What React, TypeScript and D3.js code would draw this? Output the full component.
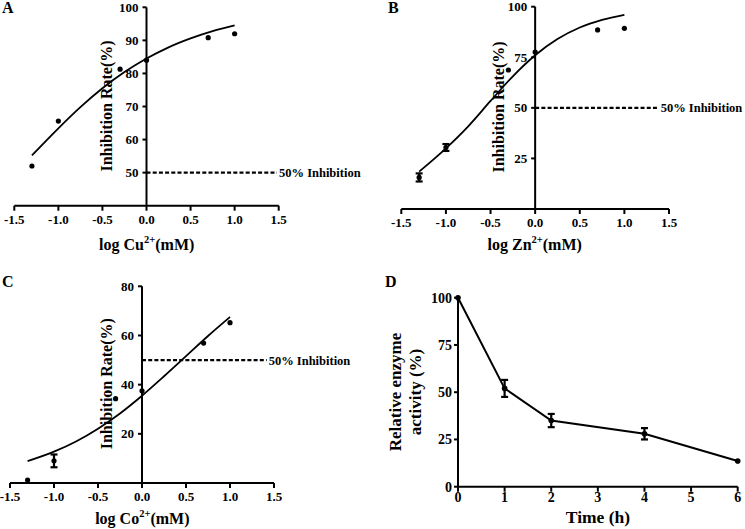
import React from "react";
import * as d3 from "d3";

const FONT = "'Liberation Serif', 'Times New Roman', serif";

// ---- data ----
const doseLog = [-1.3, -1.0, -0.3, 0, 0.7, 1.0];
const cuRate = [52, 65.6, 81.3, 84, 90.8, 92];
const cuErr = [0, 0, 0, 0, 0, 0];
const znRate = [15.6, 30.4, 68.7, 77.6, 88.5, 89.3];
const znErr = [2, 1.7, 0, 0, 0, 0];
const coRate = [1.2, 9, 34.3, 37.5, 56.9, 65.2];
const coErr = [0, 2.6, 0, 0, 0, 0];

const fitLog = [-1.3, -1.0, -0.75, -0.5, -0.25, 0, 0.25, 0.5, 0.75, 1.0];
const cuFit = [55.2, 63.4, 69.8, 75.5, 80.4, 84.5, 87.9, 90.6, 92.8, 94.5];
const znFit = [18.5, 30, 40.9, 53.4, 65.6, 76, 84, 89.7, 93.5, 96];
const coFit = [8.9, 12.75, 16.9, 22.1, 28.3, 35.5, 43.4, 51.6, 59.8, 67.5];

const doseTicks = [-1.5, -1.0, -0.5, 0, 0.5, 1.0, 1.5];
const cuYTicks = [50, 60, 70, 80, 90, 100];
const znYTicks = [25, 50, 75, 100];
const coYTicks = [20, 40, 60, 80];

const timeH = [0, 1, 2, 4, 6];
const activity = [100, 52, 35, 28, 13.6];
const activityErr = [0, 4.5, 3.5, 3, 0];
const timeTicks = [0, 1, 2, 3, 4, 5, 6];
const activityTicks = [0, 25, 50, 75, 100];

type DoseCfg = {
  letter: string;
  letterPos: [number, number];
  ion: string;
  xRange: [number, number];
  yRange: [number, number];
  yDomain: [number, number];
  yTicks: number[];
  rate: number[];
  err: number[];
  fit: number[];
  yLabelPos: [number, number];
  xLabelPos: [number, number];
  dashEnd: number;
};

const panels: DoseCfg[] = [
  {
    letter: "A", letterPos: [2, 13], ion: "Cu",
    xRange: [14.3, 278.7], yRange: [205.7, 7.3], yDomain: [40, 100], yTicks: cuYTicks,
    rate: cuRate, err: cuErr, fit: cuFit,
    yLabelPos: [111.5, 106], xLabelPos: [146.7, 250], dashEnd: 277,
  },
  {
    letter: "B", letterPos: [388, 13], ion: "Zn",
    xRange: [401.3, 669], yRange: [209, 6.7], yDomain: [0, 100], yTicks: znYTicks,
    rate: znRate, err: znErr, fit: znFit,
    yLabelPos: [503.5, 107], xLabelPos: [534.7, 250], dashEnd: 658.7,
  },
  {
    letter: "C", letterPos: [2, 287], ion: "Co",
    xRange: [10, 274], yRange: [483, 286.3], yDomain: [0, 80], yTicks: coYTicks,
    rate: coRate, err: coErr, fit: coFit,
    yLabelPos: [111.5, 383.7], xLabelPos: [142.3, 524], dashEnd: 266.7,
  },
];

function ErrBar({ x, y0, y1, cap = 3.5 }: { x: number; y0: number; y1: number; cap?: number }) {
  return (
    <g stroke="#000" strokeWidth={2.2}>
      <line x1={x} x2={x} y1={y0} y2={y1} />
      <line x1={x - cap} x2={x + cap} y1={y0} y2={y0} />
      <line x1={x - cap} x2={x + cap} y1={y1} y2={y1} />
    </g>
  );
}

function DosePanel({ c }: { c: DoseCfg }) {
  const x = d3.scaleLinear().domain([-1.5, 1.5]).range(c.xRange);
  const y = d3.scaleLinear().domain(c.yDomain).range(c.yRange);
  const line = d3
    .line<number>()
    .x((_, i) => x(fitLog[i]))
    .y((d) => y(d))
    .curve(d3.curveMonotoneX);
  const x0 = x(0);
  const yb = y(c.yDomain[0]);
  return (
    <g fontFamily={FONT} fontWeight="bold" fill="#000">
      <text x={c.letterPos[0]} y={c.letterPos[1]} fontSize={16}>{c.letter}</text>
      {/* x axis */}
      <line x1={x(-1.5)} x2={x(1.5)} y1={yb} y2={yb} stroke="#000" strokeWidth={2} />
      {doseTicks.map((t) => (
        <g key={t}>
          <line x1={x(t)} x2={x(t)} y1={yb} y2={yb + 5} stroke="#000" strokeWidth={2} />
          <text x={x(t)} y={yb + 18} textAnchor="middle" fontSize={13}>
            {d3.format(".1f")(t).replace("−", "-")}
          </text>
        </g>
      ))}
      {/* y axis */}
      <line x1={x0} x2={x0} y1={yb} y2={y(c.yDomain[1])} stroke="#000" strokeWidth={2} />
      {c.yTicks.map((t) => (
        <g key={t}>
          <line x1={x0 - 4} x2={x0} y1={y(t)} y2={y(t)} stroke="#000" strokeWidth={2} />
          <text x={x0 - 8} y={y(t) + 4.5} textAnchor="end" fontSize={13}>{t}</text>
        </g>
      ))}
      {/* 50% line */}
      <line x1={x0} x2={c.dashEnd} y1={y(50)} y2={y(50)} stroke="#000" strokeWidth={2.2} strokeDasharray="4,2.2" />
      <text x={c.dashEnd + 2} y={y(50) + 4.5} fontSize={12.5}>50% Inhibition</text>
      {/* fit curve */}
      <path d={line(c.fit) || ""} fill="none" stroke="#000" strokeWidth={1.8} />
      {/* points */}
      {doseLog.map((d, i) => (
        <g key={i}>
          {c.err[i] > 0 && <ErrBar x={x(d)} y0={y(c.rate[i] - c.err[i])} y1={y(c.rate[i] + c.err[i])} />}
          <circle cx={x(d)} cy={y(c.rate[i])} r={2.6} fill="#000" />
        </g>
      ))}
      {/* labels */}
      <text x={c.xLabelPos[0]} y={c.xLabelPos[1]} textAnchor="middle" fontSize={16}>
        log {c.ion}
        <tspan fontSize={10.5} dy={-7}>2+</tspan>
        <tspan dy={7}>(mM)</tspan>
      </text>
      <text
        transform={`translate(${c.yLabelPos[0]},${c.yLabelPos[1]}) rotate(-90)`}
        textAnchor="middle"
        fontSize={16}
      >
        Inhibition Rate(%)
      </text>
    </g>
  );
}

function TimePanel() {
  const x = d3.scaleLinear().domain([0, 6]).range([458, 737.7]);
  const y = d3.scaleLinear().domain([0, 100]).range([486.7, 297.7]);
  const line = d3
    .line<number>()
    .x((_, i) => x(timeH[i]))
    .y((d) => y(d));
  const yb = y(0);
  const x0 = x(0);
  return (
    <g fontFamily={FONT} fontWeight="bold" fill="#000">
      <text x={385} y={287} fontSize={16}>D</text>
      <line x1={x(0)} x2={x(6)} y1={yb} y2={yb} stroke="#000" strokeWidth={2} />
      {timeTicks.map((t) => (
        <g key={t}>
          <line x1={x(t)} x2={x(t)} y1={yb} y2={yb + 5} stroke="#000" strokeWidth={2} />
          <text x={x(t)} y={yb + 15} textAnchor="middle" fontSize={14}>{t}</text>
        </g>
      ))}
      <line x1={x0} x2={x0} y1={yb} y2={y(100)} stroke="#000" strokeWidth={2} />
      {activityTicks.map((t) => (
        <g key={t}>
          <line x1={x0 - 4} x2={x0} y1={y(t)} y2={y(t)} stroke="#000" strokeWidth={2} />
          <text x={x0 - 6} y={y(t) + 5} textAnchor="end" fontSize={14}>{t}</text>
        </g>
      ))}
      <path d={line(activity) || ""} fill="none" stroke="#000" strokeWidth={2} />
      {timeH.map((t, i) => (
        <g key={t}>
          {activityErr[i] > 0 && (
            <ErrBar x={x(t)} y0={y(activity[i] - activityErr[i])} y1={y(activity[i] + activityErr[i])} />
          )}
          <circle cx={x(t)} cy={y(activity[i])} r={2.8} fill="#000" />
        </g>
      ))}
      <text x={598} y={523} textAnchor="middle" fontSize={17.5}>Time (h)</text>
      <text transform={`translate(401,392) rotate(-90)`} textAnchor="middle" fontSize={17}>
        Relative enzyme
      </text>
      <text transform={`translate(421,392) rotate(-90)`} textAnchor="middle" fontSize={17}>
        activity (%)
      </text>
    </g>
  );
}

export default function App() {
  return (
    <svg
      width={745}
      height={529}
      viewBox="0 0 745 529"
      style={{ position: "absolute", left: 0, top: 0, background: "#fff" }}
    >
      <rect width={745} height={529} fill="#fff" />
      {panels.map((p) => (
        <DosePanel key={p.letter} c={p} />
      ))}
      <TimePanel />
    </svg>
  );
}
